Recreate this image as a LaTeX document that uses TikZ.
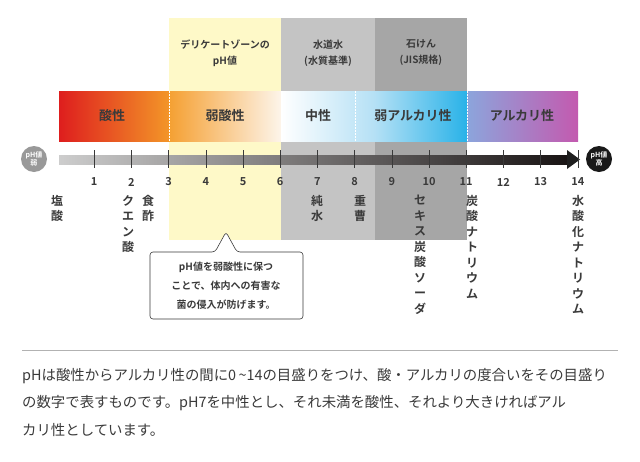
\documentclass[tikz,border=0pt]{standalone}
\usepackage{fontspec}
\newfontfamily\cjk{Noto Sans CJK JP}[BoldFont={Noto Sans CJK JP Bold}]
\usetikzlibrary{positioning, calc, arrows.meta}
\definecolor{zoneyellow}{HTML}{FEF9C8}
\definecolor{zonegray}{HTML}{C4C4C4}
\definecolor{zonedark}{HTML}{A6A6A6}
\definecolor{txtgray}{HTML}{3A3A3A}
\tikzset{
  %band label style
  bandlbl/.style={
    font=\cjk\bfseries\fontsize{13}{15}\selectfont
    , text=txtgray
  },
  toplbl/.style={
    font=\cjk\bfseries\fontsize{10}{16}\selectfont
    , align=center
    , text=txtgray
  },
  tickno/.style={
    font=\cjk\bfseries\fontsize{11}{12}\selectfont
    , text=txtgray
  },
  subst/.style={
    font=\cjk\bfseries\fontsize{12}{15.5}\selectfont
    , align=center
    , anchor=north
    , inner sep=0pt
    , text=txtgray
  },
  bracket/.style={
    draw=txtgray
    , line width=0.5pt
    , {Straight Barb[length=2pt]}-{Straight Barb[length=2pt]}
  },
}
\begin{document}
\begin{tikzpicture}[x=1pt, y=-1pt]
  \useasboundingbox (0,0) rectangle (640,461);
  % zones
  \fill[zoneyellow] (169,18) rectangle (281,240);
  \fill[zonegray] (281,18) rectangle (375,240);
  \fill[zonedark] (375,18) rectangle (467,240);
  % zone labels
  \node[toplbl] (delicate) at (225,53) {デリケートゾーンの\\pH値};
  \node[toplbl] (tap) at (328,53) {水道水\\(水質基準)};
  \node[toplbl] (soap) at (421,53) {石けん\\(JIS規格)};
  \coordinate (b3) at (169,98);
  \coordinate (b6) at (281,98);
  \coordinate (b8) at (375,98);
  \coordinate (b11) at (467,98);
  \draw[bracket] (b3) -- (b6);
  \draw[bracket] (b6) -- (b8);
  \draw[bracket] (b8) -- (b11);
  % colour bar
  \fill[left color={rgb,255:red,222;green,30;blue,30}, right color={rgb,255:red,243;green,150;blue,40}] (59,91) rectangle (169.5,141);
  \fill[left color={rgb,255:red,245;green,160;blue,50}, right color={rgb,255:red,253;green,245;blue,235}] (169,91) rectangle (281.5,141);
  \fill[left color=white, right color={rgb,255:red,180;green,224;blue,245}] (281,91) rectangle (375.5,141);
  \fill[left color={rgb,255:red,180;green,224;blue,245}, right color={rgb,255:red,40;green,178;blue,232}] (375,91) rectangle (467.5,141);
  \fill[left color={rgb,255:red,140;green,165;blue,220}, right color={rgb,255:red,195;green,90;blue,175}] (467,91) rectangle (578,141);
  \foreach \x in {169,281,355,467}
    \draw[white, line width=1pt, dash pattern=on 1.5pt off 1.5pt] (\x,91) -- (\x,141);
  \node[bandlbl] (acid) at (112,116) {酸性};
  \node[bandlbl] (wacid) at (225,116) {弱酸性};
  \node[bandlbl] (neutral) at (318,116) {中性};
  \node[bandlbl] (walk) at (413,116) {弱アルカリ性};
  \node[bandlbl] (alk) at (522,116) {アルカリ性};
  % axis
  \fill[left color={rgb,255:red,205;green,205;blue,205}, right color={rgb,255:red,25;green,20;blue,20}] (59,155) rectangle (568,164);
  \fill[black!88] (567,150) -- (580,159.5) -- (567,169) -- cycle;
  \foreach \n in {1,...,14}{
    \draw[txtgray, line width=0.6pt] ({57+37.2*\n},150) -- ({57+37.2*\n},168);
    \node[tickno] (t\n) at ({57+37.2*\n},182) {\n};
  }
  \node[circle, fill=black!40, minimum size=26pt, inner sep=0pt, align=center, text=white,
        font=\cjk\bfseries\fontsize{7}{8}\selectfont] (weak) at (34,159) {pH値\\弱};
  \node[circle, fill=black!90, minimum size=26pt, inner sep=0pt, align=center, text=white,
        font=\cjk\bfseries\fontsize{7}{8}\selectfont] (high) at (599,159) {pH値\\高};
  % substances
  \node[subst] (hcl) at (57,195) {塩\\酸};
  \node[subst] (citric) at (128,195) {ク\\エ\\ン\\酸};
  \node[subst] (vinegar) at (148,195) {食\\酢};
  \node[subst] (water) at (317,195) {純\\水};
  \node[subst] (soda) at (360,195) {重\\曹};
  \node[subst] (sesqui) at (420,195) {セ\\キ\\ス\\炭\\酸\\ソ\\ー\\ダ};
  \node[subst] (carb) at (472,195) {炭\\酸\\ナ\\ト\\リ\\ウ\\ム};
  \node[subst] (naoh) at (578,195) {水\\酸\\化\\ナ\\ト\\リ\\ウ\\ム};
  % callout
  \draw[txtgray, line width=0.6pt, fill=white, rounded corners=3pt]
    (215,252) -- (226,232) -- (237,252) -- (303,252) -- (303,319) -- (150,319) -- (150,252) -- cycle;
  \node[font=\cjk\bfseries\fontsize{10}{19}\selectfont, align=center, text=txtgray] (note) at (226,286)
    {pH値を弱酸性に保つ\\ことで、体内への有害な\\菌の侵入が防げます。};
  % text below
  \draw[black!30, line width=0.5pt] (22,350) -- (618,350);
  \node[font=\cjk\fontsize{14.4}{27.5}\selectfont, align=left, anchor=north west, text=txtgray, inner sep=0pt] (para) at (22,368)
    {pHは酸性からアルカリ性の間に0\,\textasciitilde14の目盛りをつけ、酸・アルカリの度合いをその目盛り\\
     の数字で表すものです。pH7を中性とし、それ未満を酸性、それより大きければアル\\
     カリ性としています。};
\end{tikzpicture}
\end{document}
